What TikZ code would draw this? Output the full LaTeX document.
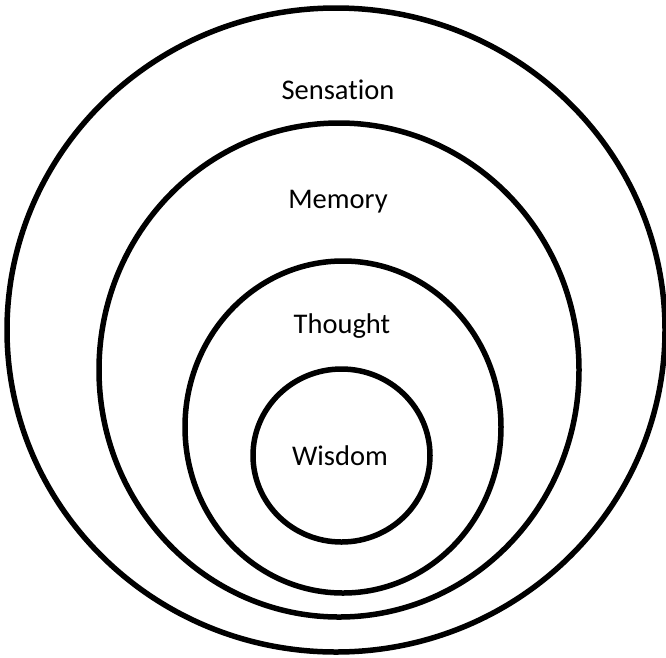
\documentclass[tikz,border=0pt]{standalone}
\usepackage{fontspec}
\setmainfont{Carlito}[Ligatures=NoCommon]
\usepackage{tikz}
\usetikzlibrary{positioning}
\tikzset{
  anillo/.style={draw=black,line width=5.5pt},
  etiqueta/.style={font=\fontsize{28.5}{34}\selectfont,anchor=base,inner sep=0pt}
}

\begin{document}
\begin{tikzpicture}[x=1pt,y=-1pt]
  \useasboundingbox[fill=white] (0,0) rectangle (666,657);
  \foreach \nombre/\cx/\cy/\rx/\ry/\lx/\ly/\txt in {sensation/336/330/329/322/338/99/Sensation,
                                                   memory/339/370/240/247/338/208/Memory,
                                                   thought/343/427/158/166/342/333/Thought,
                                                   wisdom/341.5/455.5/88.5/86.5/340/465/Wisdom}{
    \draw[anillo] (\cx,\cy) ellipse [x radius=\rx, y radius=\ry];
    \node[etiqueta] (\nombre) at (\lx,\ly) {\txt};
  }
\end{tikzpicture}
\end{document}
